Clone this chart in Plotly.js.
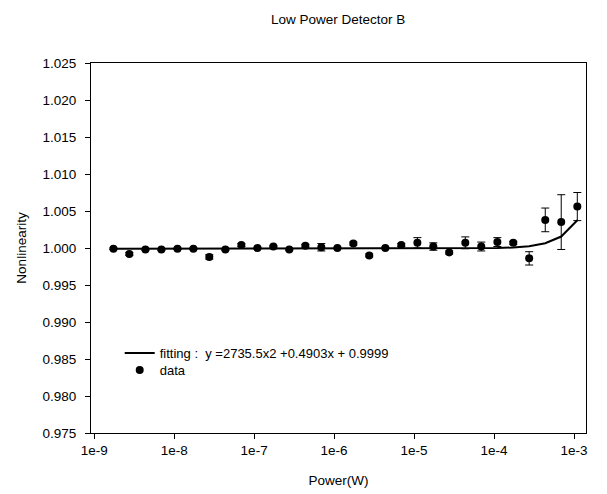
<!DOCTYPE html>
<html>
<head>
<meta charset="utf-8">
<script src="https://cdn.plot.ly/plotly-3.0.1.min.js"></script>
<style>html,body{margin:0;padding:0;background:#fff;}#chart{width:607px;height:494px;}</style>
</head>
<body>
<div id="chart"></div>
<script>
// Data
const power = [1.74e-9, 2.75e-9, 4.37e-9, 6.92e-9, 1.10e-8, 1.74e-8, 2.75e-8, 4.37e-8, 6.92e-8, 1.10e-7,
               1.74e-7, 2.75e-7, 4.37e-7, 6.92e-7, 1.10e-6, 1.74e-6, 2.75e-6, 4.37e-6, 6.92e-6, 1.10e-5,
               1.74e-5, 2.75e-5, 4.37e-5, 6.92e-5, 1.10e-4, 1.74e-4, 2.75e-4, 4.37e-4, 6.92e-4, 1.10e-3];
const nonlinearity = [0.9999, 0.9992, 0.9998, 0.9998, 0.9999, 0.9999, 0.9988, 0.9998, 1.0004, 1.0000,
                      1.0002, 0.9998, 1.0003, 1.0001, 1.0000, 1.0006, 0.9990, 1.0000, 1.0004, 1.0007,
                      1.0002, 0.9994, 1.0007, 1.0002, 1.0008, 1.0007, 0.9986, 1.0038, 1.0035, 1.0056];
const errors = [0.0001, 0.0002, 0.0001, 0.0001, 0.0001, 0.0001, 0.0003, 0.0001, 0.0002, 0.0001,
                0.0001, 0.0001, 0.0002, 0.0005, 0.0001, 0.0002, 0.0002, 0.0001, 0.0002, 0.0007,
                0.0005, 0.0002, 0.0008, 0.0006, 0.0006, 0.0002, 0.0009, 0.0016, 0.0037, 0.0019];
// Fit coefficients shown in the legend: y = a*x^2 + b*x + c
const fitCoeffs = [2735.5, 0.4903, 0.9999];
const xTickVals = [1e-9, 1e-8, 1e-7, 1e-6, 1e-5, 1e-4, 1e-3];
const xTickText = ["1e-9", "1e-8", "1e-7", "1e-6", "1e-5", "1e-4", "1e-3"];

const fitY = power.map(x => fitCoeffs[0] * x * x + fitCoeffs[1] * x + fitCoeffs[2]);

const FAM = "Liberation Sans, Arial, sans-serif";
const FS = 13.5;

const traces = [
  {
    x: power, y: fitY, type: "scatter", mode: "lines",
    name: "fitting :  y =2735.5x2 +0.4903x + 0.9999",
    line: {color: "#000", width: 2},
    legend: "legend"
  },
  {
    x: power, y: nonlinearity, type: "scatter", mode: "markers",
    name: "data",
    marker: {color: "#000", size: 8},
    error_y: {type: "data", array: errors, visible: true, color: "#000", thickness: 1, width: 4},
    legend: "legend2"
  }
];

const legendFont = {family: FAM, size: 13, color: "#000"};

const layout = {
  width: 607, height: 494,
  paper_bgcolor: "#fff", plot_bgcolor: "#fff",
  margin: {l: 91, r: 21, t: 63, b: 61},
  font: {family: FAM, size: FS, color: "#000"},
  title: {text: "Low Power Detector B", font: {family: FAM, size: FS, color: "#000"}, x: 0.557, xanchor: "center", y: 0.96, yanchor: "middle"},
  xaxis: {
    type: "log", range: [Math.log10(1e-9) - 0.04, Math.log10(1e-3) + 0.15],
    tickvals: xTickVals, ticktext: xTickText,
    ticks: "outside", ticklen: 5, tickcolor: "#000", tickwidth: 1,
    showline: true, linecolor: "#000", linewidth: 1, mirror: true,
    showgrid: false, zeroline: false,
    tickfont: {family: FAM, size: FS, color: "#000"},
    title: {text: "Power(W)", font: {family: FAM, size: FS, color: "#000"}, standoff: 18}
  },
  yaxis: {
    range: [0.975, 1.025], dtick: 0.005, tick0: 0.975, tickformat: ".3f",
    ticks: "outside", ticklen: 5, tickcolor: "#000", tickwidth: 1,
    showline: true, linecolor: "#000", linewidth: 1, mirror: true,
    showgrid: false, zeroline: false, ticklabelstandoff: 6,
    tickfont: {family: FAM, size: FS, color: "#000"},
    title: {text: "Nonlinearity", font: {family: FAM, size: FS, color: "#000"}, standoff: 12}
  },
  showlegend: true,
  legend: {x: 0.058, y: 0.2162, xanchor: "left", yanchor: "middle", bgcolor: "rgba(0,0,0,0)",
           font: legendFont, itemwidth: 30},
  legend2: {x: 0.058, y: 0.1703, xanchor: "left", yanchor: "middle", bgcolor: "rgba(0,0,0,0)",
           font: legendFont, itemwidth: 30}
};

Plotly.newPlot("chart", traces, layout, {displayModeBar: false, staticPlot: true});
</script>
</body>
</html>
